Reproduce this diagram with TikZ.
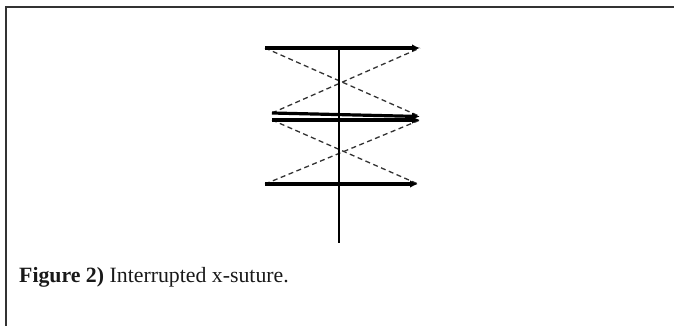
\documentclass[tikz,border=0pt]{standalone}
\usepackage{fontspec}
\setmainfont{Liberation Serif}
\usetikzlibrary{arrows.meta}

\tikzset{
  thread/.style={line width=3.2pt, -{Latex[length=8pt,width=7.5pt]}},
  crossing/.style={line width=1.3pt, dash pattern=on 5pt off 3.5pt, black!80},
}

\begin{document}
\begin{tikzpicture}[x=1pt,y=-1pt]
  \useasboundingbox (0,0) rectangle (674,326);
  \draw[line width=1.8pt, black!80] (674,7) -- (6,7) -- (6,326);
  % stitch ends
  \coordinate (topL) at (265,48);   \coordinate (topR) at (420,48);
  \coordinate (midaL) at (272,113); \coordinate (midaR) at (420,116.5);
  \coordinate (midbL) at (272,120); \coordinate (midbR) at (420,120);
  \coordinate (botL) at (265,184);  \coordinate (botR) at (418,184);
  \coordinate (wndT) at (339,46);   \coordinate (wndB) at (339,243);
  % crossing threads
  \draw[crossing] (topL) -- (midaR);
  \draw[crossing] (midaL) -- (topR);
  \draw[crossing] (midbL) -- (botR);
  \draw[crossing] (botL) -- (midbR);
  % wound and stitches
  \draw[line width=2.9pt] (wndT) -- (wndB);
  \draw[thread] (topL) -- (topR);
  \draw[thread] (midaL) -- (midaR);
  \draw[thread] (midbL) -- (midbR);
  \draw[thread] (botL) -- (botR);
  \node[anchor=base west, inner sep=0pt, text=black!90, font=\fontsize{21.8}{26}\selectfont] (caption) at (19,282)
    {\textbf{Figure 2)} Interrupted x-suture.};
\end{tikzpicture}
\end{document}
